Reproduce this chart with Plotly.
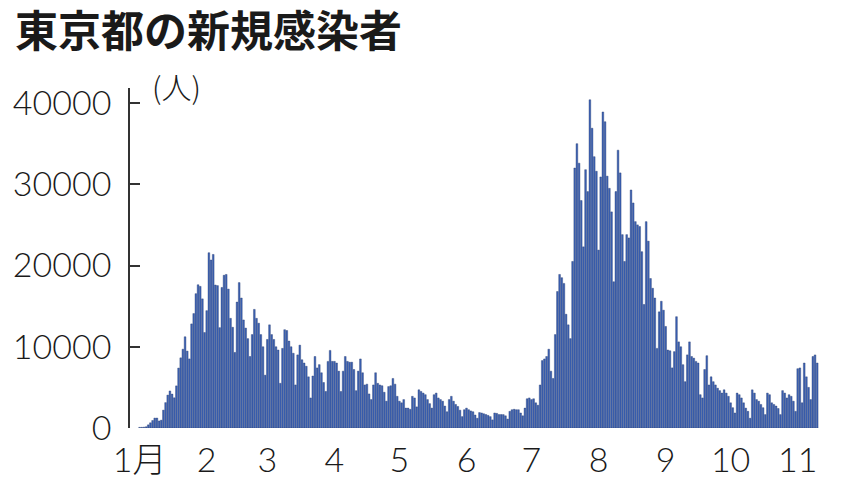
import pandas as pd
import plotly.graph_objects as go

# 東京都の新規感染者（2022年、日別）
jan = [79, 84, 103, 151, 390, 641, 922, 1224, 1223, 871, 962, 2198, 3124, 4051, 4561, 4172,
       3719, 5185, 7377, 8638, 9699, 11227, 9468, 8503, 12813, 14086, 16538, 17631, 17433,
       15895, 11751]
feb = [14445, 21576, 20679, 21362, 17600, 17526, 12351, 17300, 18800, 18900, 17100, 13500,
       12400, 9300, 15500, 17900, 16000, 13300, 12300, 11000, 8800, 11500, 14600, 13500,
       12900, 11500, 10000, 6500]
mar = [10900, 12700, 11500, 10900, 10000, 9600, 5500, 9800, 12100, 12000, 10700, 10000, 9200,
       5300, 9000, 10200, 8400, 8000, 7600, 6300, 3700, 6400, 8800, 7400, 7800, 6800, 5600,
       4500, 8200, 9550, 8200]
apr = [8200, 8000, 7000, 4500, 7000, 8800, 8200, 8100, 8100, 7200, 4600, 7000, 8500, 6800,
       5300, 5400, 4200, 3500, 5300, 6800, 5500, 5300, 5200, 4400, 3300, 5100, 5200, 6100,
       5400, 3900]
may = [3300, 3100, 3500, 2450, 2450, 2300, 3900, 3700, 2600, 4700, 4500, 4300, 4100, 3500,
       3000, 2450, 4100, 4300, 3700, 3500, 3300, 2700, 2000, 3500, 3900, 3300, 2900, 2650,
       2200, 1400, 2250]
jun = [2450, 2250, 2100, 2000, 1600, 1200, 1900, 1850, 1750, 1650, 1550, 1400, 1000, 1850,
       1800, 1650, 1650, 1650, 1500, 1100, 2050, 2250, 2300, 2250, 2250, 1850, 1500, 2450,
       3600, 3700]
jul = [3500, 3600, 3100, 2800, 5300, 8300, 8500, 8800, 9700, 7000, 6100, 11500, 16800, 18900,
       18500, 17800, 14000, 12700, 11000, 20500, 32000, 35000, 32600, 28000, 22300, 31800,
       29100, 40400, 36900, 33400, 31600]
aug = [21900, 30900, 38900, 37700, 31000, 29500, 26600, 18000, 29100, 34200, 31400, 23800,
       20500, 23800, 23400, 29300, 27700, 25400, 25000, 24800, 21700, 15200, 25400, 23000,
       18400, 17200, 16000, 9800, 14300, 15600, 14500]
sep = [12500, 9600, 9500, 7400, 9400, 13700, 10600, 10000, 7800, 5700, 9000, 10600, 8800,
       8600, 8200, 8000, 4100, 3700, 7200, 8900, 5300, 6300, 5700, 5300, 4900, 4600, 4300,
       4700, 4300, 3900]
oct_ = [3100, 2500, 1850, 4300, 4100, 3700, 3100, 2450, 2050, 1200, 4700, 4300, 3500, 3300,
        2900, 2500, 1650, 4300, 4100, 3100, 2900, 2700, 2400, 1650, 4600, 4300, 3700, 4100,
        3900, 3300, 2050]
nov = [7300, 7400, 3100, 8000, 6300, 5000, 3500, 8800, 9000, 8000]

counts = jan + feb + mar + apr + may + jun + jul + aug + sep + oct_ + nov
days = pd.date_range("2022-01-01", periods=len(counts), freq="D")

month_starts = pd.date_range("2022-01-01", "2022-11-01", freq="MS")
month_labels = ["1月", "2", "3", "4", "5", "6", "7", "8", "9", "10", "11"]
y_ticks = [0, 10000, 20000, 30000, 40000]

num_font = dict(family="Lato, Noto Sans CJK JP, sans-serif", size=34, color="#1a1a1a", weight=300)

fig = go.Figure()
fig.add_trace(go.Bar(
    x=days,
    y=counts,
    marker=dict(color="#3b61b4", line=dict(color="#2a3f72", width=0.4)),
    showlegend=False,
))

# the page body adds an 8px margin, so the figure is 8px smaller on each side
fig.update_layout(
    width=849,
    height=472,
    margin=dict(l=122, r=37, t=80, b=52),
    paper_bgcolor="white",
    plot_bgcolor="white",
    bargap=0.2,
    xaxis=dict(
        range=["2021-12-27 13:30", "2022-11-11 07:00"],
        tickmode="array",
        tickvals=month_starts,
        ticktext=month_labels,
        tickfont=num_font,
        ticks="",
        showline=False,
        showgrid=False,
        zeroline=False,
        automargin=False,
        ticklabelstandoff=9,
    ),
    yaxis=dict(
        range=[0, 41850],
        tickmode="array",
        tickvals=y_ticks,
        ticktext=[str(v) for v in y_ticks],
        tickfont=num_font,
        ticks="inside",
        ticklen=10,
        tickwidth=1.5,
        tickcolor="#333",
        showline=True,
        linecolor="#333",
        linewidth=1.5,
        showgrid=False,
        zeroline=False,
        automargin=False,
        ticklabelstandoff=10,
    ),
    annotations=[
        dict(
            text="<b>東京都の新規感染者</b>",
            xref="paper", yref="paper",
            x=(13 - 130) / 690, y=(428 - 28) / 340,
            xanchor="left", yanchor="middle",
            showarrow=False,
            font=dict(family="Noto Sans CJK JP", size=43, color="#1a1a1a"),
        ),
        dict(
            text="(人)",
            xref="paper", yref="paper",
            x=(176 - 130) / 690, y=(428 - 86) / 340,
            xanchor="center", yanchor="middle",
            showarrow=False,
            font=dict(family="Noto Sans CJK JP", size=30, color="#1a1a1a", weight=300),
        ),
    ],
)

fig.write_html("out.html")
